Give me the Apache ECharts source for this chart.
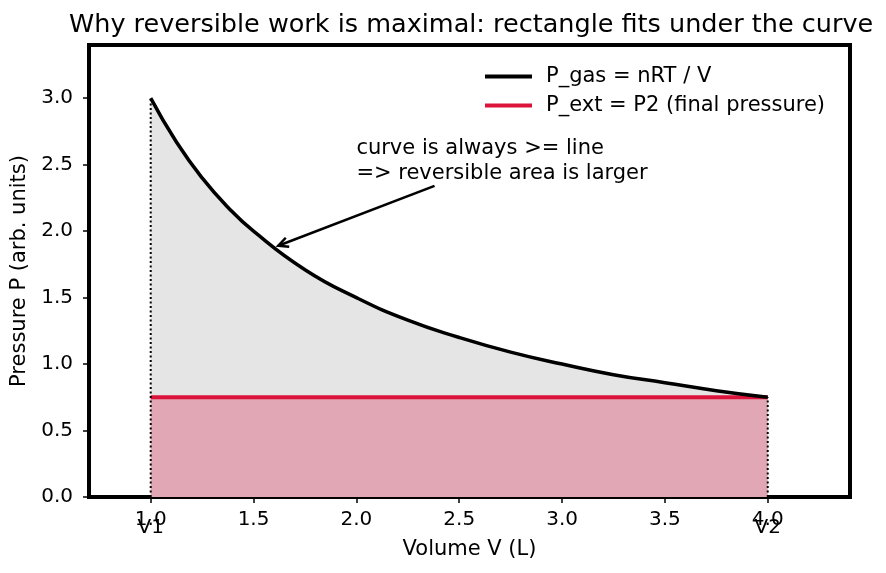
<!DOCTYPE html>
<html>
<head>
<meta charset="utf-8">
<script src="https://cdn.jsdelivr.net/npm/echarts@6/dist/echarts.min.js"></script>
<style>
  html, body { margin: 0; padding: 0; background: #fff; }
  #chart { width: 886px; height: 573px; }
</style>
</head>
<body>
<div id="chart"></div>
<script>
// data
const volume = [1.0, 1.125, 1.25, 1.375, 1.5, 1.75, 2.0, 2.25, 2.5, 2.75, 3.0, 3.25, 3.5, 3.75, 4.0]
const pGas = [3.0, 2.67, 2.4, 2.18, 2.0, 1.71, 1.5, 1.33, 1.2, 1.09, 1.0, 0.92, 0.86, 0.8, 0.75]
const V1 = 1.0
const V2 = 4.0
const P1 = 3.0
const P2 = 0.75
const xTicks = [1.0, 1.5, 2.0, 2.5, 3.0, 3.5, 4.0]
const noteAt = [2.0, 2.38]
const arrowFrom = [2.38, 2.34]
const arrowTo = [1.62, 1.89]

const FONT = 'DejaVu Sans'
const gasData = volume.map((v, i) => [v, pGas[i]])
const extData = [[V1, P2], [V2, P2]]

const chart = echarts.init(document.getElementById('chart'))
chart.setOption({
    animation: false,
    textStyle: { fontFamily: FONT },
    title: {
        text: 'Why reversible work is maximal: rectangle fits under the curve',
        left: 64,
        top: 7,
        textStyle: { fontFamily: FONT, fontSize: 25.5, fontWeight: 'normal', color: '#000' }
    },
    legend: {
        orient: 'vertical',
        left: 480,
        top: 61,
        itemWidth: 47,
        itemHeight: 4,
        itemGap: 8,
        textStyle: { fontFamily: FONT, fontSize: 21, color: '#000', padding: [0, 0, 0, 9] },
        data: [
            { name: 'P_gas = nRT / V', icon: 'rect' },
            { name: 'P_ext = P2 (final pressure)', icon: 'rect' }
        ]
    },
    grid: {
        left: 89, right: 36, top: 45, bottom: 76,
        show: true, borderColor: '#000', borderWidth: 4
    },
    xAxis: {
        type: 'value',
        min: 0.7,
        max: 4.4,
        name: 'Volume V (L)',
        nameLocation: 'middle',
        nameGap: 42,
        nameTextStyle: { fontFamily: FONT, fontSize: 21, color: '#000' },
        splitLine: { show: false },
        axisLine: { show: false },
        axisTick: { show: true, length: 6, lineStyle: { color: '#000', width: 1.5 }, customValues: xTicks },
        axisLabel: { fontFamily: FONT, fontSize: 20, color: '#000', margin: 13, customValues: xTicks,
            formatter: v => v.toFixed(1) }
    },
    yAxis: {
        type: 'value',
        min: 0,
        max: 3.4,
        interval: 0.5,
        name: 'Pressure P (arb. units)',
        nameLocation: 'middle',
        nameGap: 58,
        nameTextStyle: { fontFamily: FONT, fontSize: 21, color: '#000' },
        splitLine: { show: false },
        axisLine: { show: false },
        axisTick: { show: true, length: 6, lineStyle: { color: '#000', width: 1.5 } },
        axisLabel: { fontFamily: FONT, fontSize: 20, color: '#000', margin: 16, showMaxLabel: false,
            formatter: v => v.toFixed(1) }
    },
    series: [
        {   // grey area under the curve
            name: 'gasArea',
            type: 'line',
            data: gasData,
            smooth: true,
            symbol: 'none',
            lineStyle: { width: 0 },
            areaStyle: { color: '#e5e5e5', opacity: 1 },
            z: 1
        },
        {
            name: 'P_ext = P2 (final pressure)',
            type: 'line',
            data: extData,
            symbol: 'none',
            color: '#dc143c',
            lineStyle: { color: '#dc143c', width: 4 },
            areaStyle: { color: '#e2a7b5', opacity: 1 },
            z: 2
        },
        {   // dotted verticals at V1 and V2
            name: 'v1line',
            type: 'line',
            data: [[V1, 0], [V1, P1]],
            symbol: 'none',
            lineStyle: { color: '#000', width: 2, type: [2, 2.5] },
            z: 3
        },
        {
            name: 'v2line',
            type: 'line',
            data: [[V2, 0], [V2, P2]],
            symbol: 'none',
            lineStyle: { color: '#000', width: 2, type: [2, 2.5] },
            z: 3
        },
        {
            name: 'P_gas = nRT / V',
            type: 'line',
            data: gasData,
            smooth: true,
            symbol: 'none',
            color: '#000',
            lineStyle: { color: '#000', width: 3.5 },
            z: 4
        }
    ]
})

// annotation text, arrow and V1/V2 labels placed through the axis scales
function px(p) { return chart.convertToPixel({ gridIndex: 0 }, p) }
const a = px(arrowFrom)
const b = px(arrowTo)
const ang = Math.atan2(a[1] - b[1], a[0] - b[0])
const headLen = 11
const h1 = [b[0] + headLen * Math.cos(ang + 0.45), b[1] + headLen * Math.sin(ang + 0.45)]
const h2 = [b[0] + headLen * Math.cos(ang - 0.45), b[1] + headLen * Math.sin(ang - 0.45)]
const note = px(noteAt)
const base1 = px([V1, 0])
const base2 = px([V2, 0])

chart.setOption({
    graphic: [
        {
            type: 'text', x: note[0], y: note[1] + 5, z: 10,
            style: {
                text: 'curve is always >= line\n=> reversible area is larger',
                font: '21px "DejaVu Sans"', fill: '#000',
                textAlign: 'left', textVerticalAlign: 'bottom', lineHeight: 25
            }
        },
        {
            type: 'polyline', z: 10,
            shape: { points: [a, b] },
            style: { stroke: '#000', lineWidth: 2.5, fill: null }
        },
        {
            type: 'polyline', z: 10,
            shape: { points: [h1, b, h2] },
            style: { stroke: '#000', lineWidth: 2.5, fill: null }
        },
        {
            type: 'text', x: base1[0], y: base1[1] + 31, z: 10,
            style: { text: 'V1', font: '20px "DejaVu Sans"', fill: '#000', textAlign: 'center', textVerticalAlign: 'middle' }
        },
        {
            type: 'text', x: base2[0], y: base2[1] + 31, z: 10,
            style: { text: 'V2', font: '20px "DejaVu Sans"', fill: '#000', textAlign: 'center', textVerticalAlign: 'middle' }
        }
    ]
})
</script>
</body>
</html>
